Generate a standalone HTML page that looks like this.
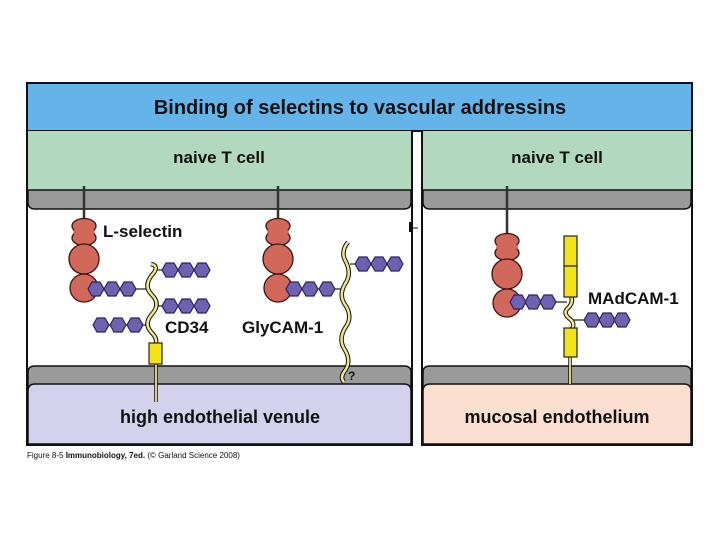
<!DOCTYPE html>
<html><head><meta charset="utf-8"><style>
html,body{margin:0;padding:0;background:#fff;}
svg{display:block;}
text{font-family:"Liberation Sans",sans-serif;font-weight:bold;fill:#111;}
</style></head><body>
<svg width="720" height="540" viewBox="0 0 720 540" xmlns="http://www.w3.org/2000/svg">
<defs>
<polygon id="hx" points="-8,0 -4,-7 4,-7 8,0 4,7 -4,7" fill="#6e62b0" stroke="#2a2460" stroke-width="1.2"/>
<g id="sel">
  <ellipse cx="0" cy="-8" rx="12" ry="7.5" fill="#d2685a" stroke="#3a1510" stroke-width="1.3"/>
  <ellipse cx="0" cy="4" rx="12" ry="7.5" fill="#d2685a" stroke="#3a1510" stroke-width="1.3"/>
  <ellipse cx="0" cy="-2" rx="11" ry="4" fill="#d2685a"/>
  <circle cx="0" cy="25" r="15" fill="#d2685a" stroke="#3a1510" stroke-width="1.3"/>
  <circle cx="0" cy="54" r="14" fill="#d2685a" stroke="#3a1510" stroke-width="1.3"/>
</g>
</defs>
<rect x="27" y="83" width="665" height="48" fill="#64b4ea" stroke="#111" stroke-width="2"/>
<text x="360" y="114" font-size="20" text-anchor="middle">Binding of selectins to vascular addressins</text>
<!-- left panel -->
<rect x="27" y="131" width="385" height="314" fill="#fff" stroke="#111" stroke-width="2"/>
<rect x="28" y="131" width="383" height="62" fill="#b2d8c0"/>
<path d="M28,190 L411,190 L411,202 Q411,209 404,209 L35,209 Q28,209 28,202Z" fill="#9a9a9a" stroke="#111" stroke-width="1.5"/>
<path d="M28,372 Q28,366 35,366 L404,366 Q411,366 411,372 L411,444 L28,444Z" fill="#9a9a9a" stroke="#111" stroke-width="1.5"/>
<path d="M28,391 Q28,384 35,384 L404,384 Q411,384 411,391 L411,444 L28,444Z" fill="#d3d1ec" stroke="#111" stroke-width="1.5"/>
<text x="219" y="163" font-size="17" text-anchor="middle">naive T cell</text>
<text x="220" y="423" font-size="18" text-anchor="middle">high endothelial venule</text>
<!-- right panel -->
<rect x="422" y="131" width="270" height="314" fill="#fff" stroke="#111" stroke-width="2"/>
<rect x="423" y="131" width="268" height="62" fill="#b2d8c0"/>
<path d="M423,190 L691,190 L691,202 Q691,209 684,209 L430,209 Q423,209 423,202Z" fill="#9a9a9a" stroke="#111" stroke-width="1.5"/>
<path d="M423,372 Q423,366 430,366 L684,366 Q691,366 691,372 L691,444 L423,444Z" fill="#9a9a9a" stroke="#111" stroke-width="1.5"/>
<path d="M423,391 Q423,384 430,384 L684,384 Q691,384 691,391 L691,444 L423,444Z" fill="#fbdfd0" stroke="#111" stroke-width="1.5"/>
<text x="557" y="163" font-size="17" text-anchor="middle">naive T cell</text>
<text x="557" y="423" font-size="18" text-anchor="middle">mucosal endothelium</text>
<rect x="409" y="222" width="4" height="10" fill="#111"/><line x1="413" y1="228" x2="418" y2="228" stroke="#111"/>

<!-- L-selectin 1 -->
<line x1="84" y1="186" x2="84" y2="225" stroke="#333" stroke-width="2.5"/>
<use href="#sel" x="84" y="234"/>
<text x="103" y="237" font-size="17">L-selectin</text>
<line x1="128" y1="289" x2="146" y2="289" stroke="#222" stroke-width="1.2"/>
<use href="#hx" x="96" y="289"/><use href="#hx" x="112" y="289"/><use href="#hx" x="128" y="289"/>
<!-- CD34 -->
<line x1="154" y1="270" x2="168" y2="270" stroke="#222" stroke-width="1.2"/>
<line x1="154" y1="306" x2="168" y2="306" stroke="#222" stroke-width="1.2"/>
<line x1="135" y1="325" x2="146" y2="325" stroke="#222" stroke-width="1.2"/>
<path d="M151,264 Q160,266 152,275 Q143,286 152,295 Q161,304 152,314 Q143,324 152,333 Q157,338 156,343" fill="none" stroke="#111" stroke-width="4.5"/>
<path d="M151,264 Q160,266 152,275 Q143,286 152,295 Q161,304 152,314 Q143,324 152,333 Q157,338 156,343" fill="none" stroke="#f2e48a" stroke-width="2.5"/>
<use href="#hx" x="170" y="270"/><use href="#hx" x="186" y="270"/><use href="#hx" x="202" y="270"/>
<use href="#hx" x="170" y="306"/><use href="#hx" x="186" y="306"/><use href="#hx" x="202" y="306"/>
<use href="#hx" x="101" y="325"/><use href="#hx" x="118" y="325"/><use href="#hx" x="135" y="325"/>
<text x="165" y="333" font-size="17">CD34</text>
<line x1="156" y1="362" x2="156" y2="402" stroke="#111" stroke-width="3.5"/>
<line x1="156" y1="362" x2="156" y2="402" stroke="#f2e48a" stroke-width="1.8"/>
<rect x="149" y="343" width="13" height="21" fill="#f3e21a" stroke="#222" stroke-width="1.2"/>

<!-- L-selectin 2 -->
<line x1="278" y1="186" x2="278" y2="225" stroke="#333" stroke-width="2.5"/>
<use href="#sel" x="278" y="234"/>
<line x1="327" y1="289" x2="345" y2="289" stroke="#222" stroke-width="1.2"/>
<line x1="350" y1="264" x2="362" y2="264" stroke="#222" stroke-width="1.2"/>
<path d="M348,242 Q340,252 346,262 Q352,274 345,284 Q338,296 346,306 Q353,318 345,328 Q338,340 345,350 Q352,362 344,372 Q340,378 344,382" fill="none" stroke="#111" stroke-width="4.5"/>
<path d="M348,242 Q340,252 346,262 Q352,274 345,284 Q338,296 346,306 Q353,318 345,328 Q338,340 345,350 Q352,362 344,372 Q340,378 344,382" fill="none" stroke="#f2e48a" stroke-width="2.5"/>
<use href="#hx" x="294" y="289"/><use href="#hx" x="310" y="289"/><use href="#hx" x="327" y="289"/>
<use href="#hx" x="363" y="264"/><use href="#hx" x="379" y="264"/><use href="#hx" x="395" y="264"/>
<text x="242" y="333" font-size="17">GlyCAM-1</text>
<text x="348" y="380" font-size="12">?</text>

<!-- right: L-selectin 3 -->
<line x1="507" y1="186" x2="507" y2="240" stroke="#333" stroke-width="2.5"/>
<use href="#sel" x="507" y="249"/>
<line x1="548" y1="302" x2="567" y2="302" stroke="#222" stroke-width="1.2"/>
<line x1="573" y1="320" x2="590" y2="320" stroke="#222" stroke-width="1.2"/>
<line x1="570" y1="355" x2="570" y2="384" stroke="#111" stroke-width="3.5"/>
<line x1="570" y1="355" x2="570" y2="384" stroke="#f2e48a" stroke-width="1.8"/>
<path d="M571,296 Q574,303 567,309 Q563,314 570,319 Q576,324 571,330" fill="none" stroke="#111" stroke-width="4.5"/>
<path d="M571,296 Q574,303 567,309 Q563,314 570,319 Q576,324 571,330" fill="none" stroke="#f2e48a" stroke-width="2.5"/>
<rect x="564" y="236" width="13" height="30" fill="#f3e21a" stroke="#222" stroke-width="1.2"/>
<rect x="564" y="266" width="13" height="31" fill="#f3e21a" stroke="#222" stroke-width="1.2"/>
<rect x="564" y="328" width="13" height="29" fill="#f3e21a" stroke="#222" stroke-width="1.2"/>
<use href="#hx" x="518" y="302"/><use href="#hx" x="533" y="302"/><use href="#hx" x="548" y="302"/>
<use href="#hx" x="592" y="320"/><use href="#hx" x="607" y="320"/><use href="#hx" x="622" y="320"/>
<text x="588" y="304" font-size="17">MAdCAM-1</text>

<text x="27" y="458" font-size="8" style="font-weight:normal">Figure 8-5 <tspan font-weight="bold">Immunobiology, 7ed.</tspan> (© Garland Science 2008)</text>
</svg>
</body></html>
